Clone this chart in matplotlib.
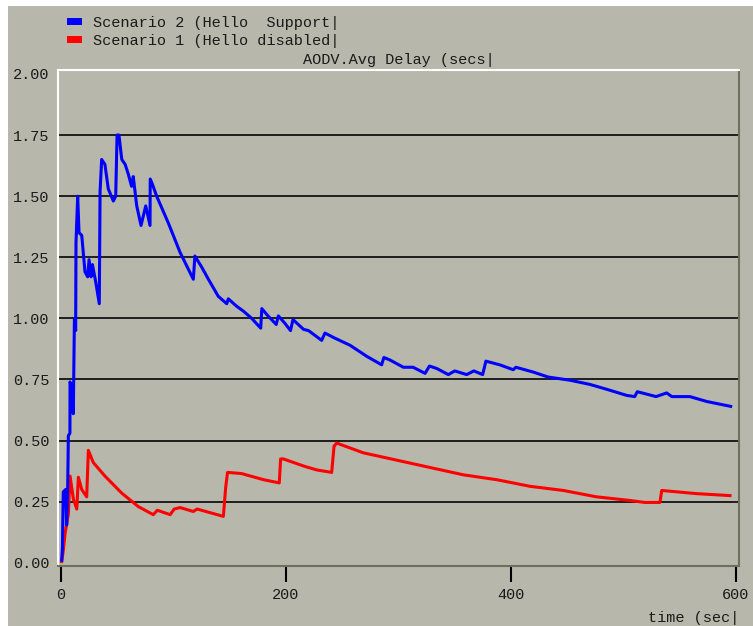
import numpy as np
import matplotlib
matplotlib.use('Agg')
import matplotlib.pyplot as plt
from matplotlib.patches import Rectangle

# colours of the old simulator style window
bg = '#b7b7ab'
txt = '#1a1a1a'

# Scenario 2 (Hello support) - blue
t_blue = [0.6, 1.2, 2.0, 4.1, 5.0, 5.9, 6.5, 7.9, 8.0, 9.3,
          10.9, 11.9, 13.0, 13.3, 14.8, 16.0, 18.4, 21.3, 23.7, 24.9,
          26.7, 27.9, 30.8, 34.0, 34.7, 36.1, 39.0, 42.0, 46.5, 48.6,
          49.8, 51.5, 54.0, 57.0, 59.8, 62.7, 64.2, 67.3, 71.1, 73.2,
          75.3, 79.1, 79.3, 81.1, 85.0, 95.4, 105.8, 117.6, 119.0, 125.0,
          131.0, 139.8, 147.3, 148.7, 156.0, 162.0, 169.5, 177.5, 178.5, 183.0,
          191.3, 193.2, 199.0, 204.0, 206.2, 215.6, 220.0, 231.7, 234.6, 243.0,
          256.9, 271.7, 285.0, 287.0, 292.3, 304.3, 313.0, 323.6, 327.5, 334.0,
          344.3, 350.0, 360.6, 367.0, 374.8, 377.7, 390.0, 402.0, 404.4, 420.0,
          433.0, 452.4, 470.0, 485.0, 502.8, 510.0, 512.3, 529.0, 538.4, 543.0,
          559.0, 574.0, 595.3]
d_blue = [0.01, 0.06, 0.29, 0.30, 0.155, 0.30, 0.52, 0.53, 0.74, 0.72,
          0.61, 1.00, 0.95, 1.31, 1.50, 1.35, 1.34, 1.19, 1.17, 1.24,
          1.17, 1.22, 1.15, 1.06, 1.52, 1.65, 1.63, 1.53, 1.48, 1.50,
          1.75, 1.75, 1.65, 1.63, 1.59, 1.54, 1.58, 1.46, 1.38, 1.42,
          1.46, 1.38, 1.57, 1.55, 1.50, 1.39, 1.27, 1.16, 1.255, 1.21,
          1.16, 1.09, 1.06, 1.08, 1.05, 1.03, 1.00, 0.96, 1.04, 1.015,
          0.975, 1.01, 0.98, 0.95, 0.995, 0.955, 0.95, 0.91, 0.94, 0.92,
          0.89, 0.845, 0.81, 0.84, 0.83, 0.80, 0.80, 0.775, 0.805, 0.795,
          0.77, 0.785, 0.77, 0.785, 0.77, 0.825, 0.81, 0.79, 0.80, 0.78,
          0.76, 0.747, 0.73, 0.71, 0.685, 0.68, 0.70, 0.68, 0.695, 0.68,
          0.68, 0.66, 0.64]

# Scenario 1 (Hello disabled) - red
t_red = [0.6, 2.0, 3.6, 6.5, 8.0, 11.0, 14.0, 15.4, 18.4, 22.8,
         24.3, 28.7, 39.0, 54.0, 68.7, 82.0, 85.6, 97.0, 100.6, 105.9,
         117.6, 121.0, 144.3, 146.4, 148.0, 160.6, 180.0, 194.0, 195.2, 197.6,
         216.3, 227.3, 240.6, 242.7, 245.0, 268.7, 298.4, 328.0, 357.6, 387.3,
         416.9, 446.5, 476.0, 505.8, 519.0, 532.4, 534.0, 565.0, 594.7]
d_red = [0.005, 0.05, 0.12, 0.20, 0.355, 0.26, 0.22, 0.35, 0.30, 0.27,
         0.46, 0.41, 0.355, 0.285, 0.23, 0.197, 0.215, 0.197, 0.22, 0.226,
         0.21, 0.22, 0.19, 0.31, 0.37, 0.365, 0.34, 0.327, 0.425, 0.425,
         0.395, 0.38, 0.37, 0.477, 0.49, 0.45, 0.42, 0.39, 0.36, 0.34,
         0.313, 0.296, 0.27, 0.255, 0.247, 0.247, 0.296, 0.283, 0.275]

labels = ['Scenario 2 (Hello  Support|', 'Scenario 1 (Hello disabled|']
colors = ['#0000ff', '#ff0000']
xticks = [0, 200, 400, 600]
yticks = [0.0, 0.25, 0.5, 0.75, 1.0, 1.25, 1.5, 1.75, 2.0]

plt.rcParams['font.family'] = ['Liberation Mono', 'DejaVu Sans Mono']

W, H = 753, 626
fig = plt.figure(figsize=(W / 100.0, H / 100.0), dpi=100, facecolor='white')
# grey panel, leaving the thin white strip at top and left
fig.patches.append(Rectangle((8.0 / W, 0), 1, (H - 6.0) / H,
                             transform=fig.transFigure, facecolor=bg,
                             edgecolor='none', zorder=-10))

ax = fig.add_axes([58.0 / W, (H - 566.0) / H, (739.0 - 58.0) / W, (566.0 - 70.0) / H])
ax.set_facecolor('none')

# draw red first so blue sits on top at the start
ax.plot(t_red, d_red, color=colors[1], lw=2.2, zorder=3)
ax.plot(t_blue, d_blue, color=colors[0], lw=2.2, zorder=4)

ax.set_xlim(-2.7, 602.7)
ax.set_ylim(-0.013, 2.016)
ax.set_xticks(xticks)
ax.set_xticklabels([str(v) for v in xticks])
ax.set_yticks(yticks)
ax.set_yticklabels(['%.2f' % v for v in yticks])

ax.tick_params(axis='x', direction='out', length=11.5, width=1.5, colors='black',
               pad=4, labelsize=11, labelcolor=txt)
ax.tick_params(axis='y', length=0, pad=6, labelsize=11, labelcolor=txt)

ax.grid(True, axis='y', color='#1e1e1e', lw=1.4)
gl = ax.get_ygridlines()
gl[0].set_visible(False)
gl[-1].set_visible(False)
ax.set_axisbelow(True)

ax.spines['left'].set_color('white')
ax.spines['top'].set_color('white')
ax.spines['bottom'].set_color('#6e705e')
ax.spines['right'].set_color('#6e705e')
for s in ax.spines.values():
    s.set_linewidth(1.5)

ax.set_title('AODV.Avg Delay (secs|', fontsize=11, color=txt, pad=4)
ax.set_xlabel('time (sec|', fontsize=11, color=txt)
ax.xaxis.label.set_ha('right')
ax.xaxis.label.set_va('center')
ax.xaxis.set_label_coords(1.0, -0.105)

# legend: coloured swatch + text, top left
for i in range(len(labels)):
    yc = 21.0 + 18.0 * i
    fig.patches.append(Rectangle((67.0 / W, (H - yc - 3.5) / H), 15.0 / W, 7.0 / H,
                                 transform=fig.transFigure, facecolor=colors[i],
                                 edgecolor='none'))
    fig.text(93.0 / W, (H - yc - 2) / H, labels[i], fontsize=11, color=txt,
             ha='left', va='center')

fig.savefig('out.png', dpi=100, facecolor=fig.get_facecolor())
